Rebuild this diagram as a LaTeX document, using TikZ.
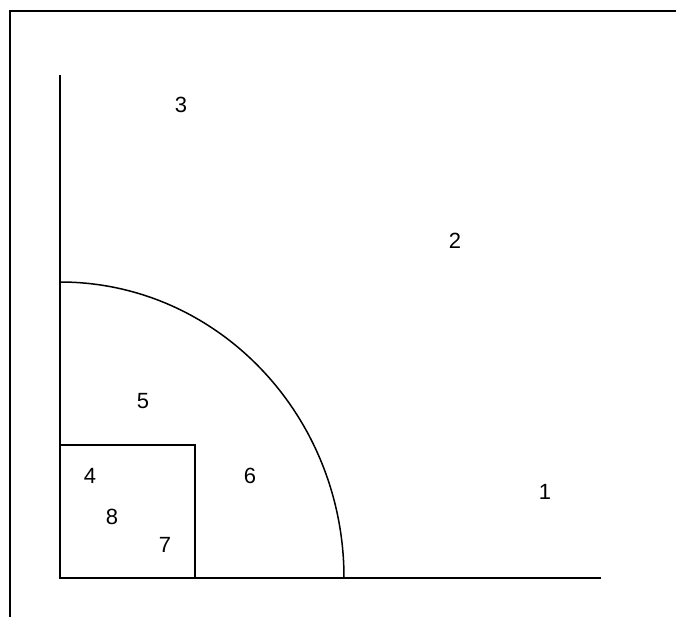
\documentclass[tikz,border=0pt]{standalone}
\usepackage{fontspec}
\setmainfont{Liberation Sans}
\usetikzlibrary{positioning}

\begin{document}
\begin{tikzpicture}[
    x=1pt, y=-1pt,
    region/.style={font=\fontsize{22}{26}\selectfont, inner sep=0pt},
    axis/.style={line width=1.5pt},
    frameline/.style={line width=2pt}
]
\useasboundingbox (0,0) rectangle (676,617);

% Frame (only top and left edges show)
\coordinate (frameBL) at (10,617);
\coordinate (frameTL) at (10,11);
\coordinate (frameTR) at (676,11);
\draw[frameline] (frameBL) -- (frameTL) -- (frameTR);

% Axes
\coordinate (origin) at (60,578);
\coordinate (ytop) at (60,75);
\coordinate (xend) at (601,578);
\draw[axis] (ytop) -- (origin) -- (xend);

% Quarter arc
\coordinate (arcTop) at (60,282);
\draw[axis] (arcTop) arc[start angle=-90, end angle=0, x radius=284, y radius=296];

% Inner square
\coordinate (sqTL) at (60,445);
\coordinate (sqBR) at (195,578);
\draw[axis] (sqTL) rectangle (sqBR);

% Region labels
\node[region] (r1) at (545,492) {1};
\node[region] (r2) at (455,241) {2};
\node[region] (r3) at (181,105) {3};
\node[region] (r4) at (90,476) {4};
\node[region] (r5) at (143,401) {5};
\node[region] (r6) at (250,476) {6};
\node[region] (r7) at (165,545) {7};
\node[region] (r8) at (112,517) {8};

\end{tikzpicture}
\end{document}
